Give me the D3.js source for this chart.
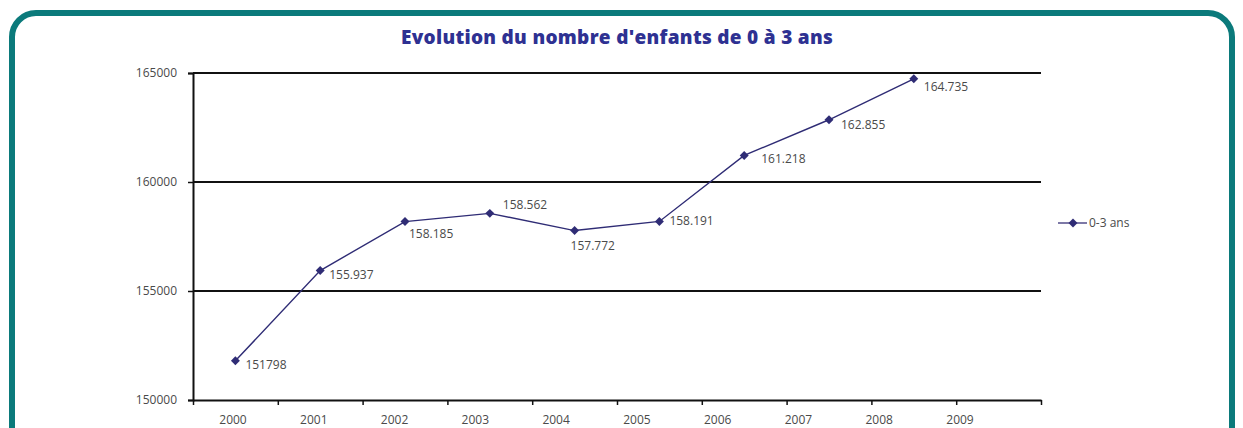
<!DOCTYPE html>
<html>
<head>
<meta charset="utf-8">
<script src="https://cdn.jsdelivr.net/npm/d3@7"></script>
<style>
  body { margin: 0; background: #fff; }
  svg { display: block; }
</style>
</head>
<body>
<div id="chartContainer"></div>
<script>
// Data
const years = ["2000", "2001", "2002", "2003", "2004", "2005", "2006", "2007", "2008", "2009"];
const values = [151798, 155937, 158185, 158562, 157772, 158191, 161218, 162855, 164735];
const valueLabels = ["151798", "155.937", "158.185", "158.562", "157.772", "158.191", "161.218", "162.855", "164.735"];
const yTicks = [150000, 155000, 160000, 165000];
const seriesName = "0-3 ans";
const title = "Evolution du nombre d'enfants de 0 à 3 ans";

// where each value label sits relative to its point (dx, dy)
const labelOffsets = [[10, 8], [9, 8], [4, 16], [13, -4], [-4, 19], [10, 4], [17, 8], [12, 9], [10, 12]];

const W = 1243, H = 428;
const lineColor = "#2f2c75";

const svg = d3.select("#chartContainer")
  .append("svg")
  .attr("width", W)
  .attr("height", H);

// teal rounded frame (bottom runs off the picture)
svg.append("rect")
  .attr("x", 12)
  .attr("y", 13)
  .attr("width", 1220)
  .attr("height", 460)
  .attr("rx", 24)
  .attr("fill", "none")
  .attr("stroke", "#0b7a7b")
  .attr("stroke-width", 6);

// title
svg.append("text")
  .attr("x", 617)
  .attr("y", 44)
  .attr("text-anchor", "middle")
  .attr("font-family", "'Open Sans', sans-serif")
  .attr("font-weight", 800)
  .attr("font-size", "19px")
  .attr("letter-spacing", "0.3px")
  .attr("fill", "#2e3192")
  .text(title);

// scales
const xBand = d3.scaleBand().domain(years).range([193, 1041]).padding(0);
const xTick = d3.scaleLinear().domain([0, years.length]).range([193, 1041]);
const xLabel = d3.scalePoint().domain(years).range([233, 960]);
const y = d3.scaleLinear().domain([150000, 165000]).range([400, 73]);

// horizontal gridlines
svg.append("g")
  .selectAll("line")
  .data(yTicks.slice(1))
  .enter()
  .append("line")
  .attr("x1", 193)
  .attr("x2", 1041)
  .attr("y1", d => y(d))
  .attr("y2", d => y(d))
  .attr("stroke", "#111")
  .attr("stroke-width", 2);

// y axis
const yAxis = svg.append("g")
  .attr("transform", "translate(193,0)")
  .call(d3.axisLeft(y).tickValues(yTicks).tickSize(5).tickPadding(11).tickFormat(d3.format("d")));
yAxis.select(".domain").attr("stroke", "#111").attr("stroke-width", 2);
yAxis.selectAll(".tick line").attr("stroke", "#111").attr("stroke-width", 1.5);
yAxis.selectAll("text")
  .attr("font-family", "'Open Sans', sans-serif")
  .attr("font-size", "12px")
  .attr("fill", "#4a4a4a");

// x axis (ticks on category boundaries)
const xAxis = svg.append("g")
  .attr("transform", "translate(0,400)")
  .call(d3.axisBottom(xTick).tickValues(d3.range(years.length + 1)).tickSize(5).tickSizeOuter(0).tickFormat(""));
xAxis.select(".domain").attr("stroke", "#111").attr("stroke-width", 2);
xAxis.selectAll(".tick line").attr("stroke", "#111").attr("stroke-width", 1.5);

// x labels
svg.append("g")
  .selectAll("text")
  .data(years)
  .enter()
  .append("text")
  .attr("x", d => xLabel(d))
  .attr("y", 424)
  .attr("text-anchor", "middle")
  .attr("font-family", "'Open Sans', sans-serif")
  .attr("font-size", "12px")
  .attr("fill", "#4a4a4a")
  .text(d => d);

// series line
const pts = values.map((v, i) => ({ year: years[i], value: v, label: valueLabels[i], off: labelOffsets[i] }));
const cx = d => xBand(d.year) + xBand.bandwidth() / 2;

svg.append("path")
  .datum(pts)
  .attr("fill", "none")
  .attr("stroke", lineColor)
  .attr("stroke-width", 1.4)
  .attr("d", d3.line().x(cx).y(d => y(d.value)));

// square marker turned 45 degrees = diamond
const diamond = d3.symbol().type(d3.symbolSquare).size(40);

svg.append("g")
  .selectAll("path")
  .data(pts)
  .enter()
  .append("path")
  .attr("transform", d => `translate(${cx(d)},${y(d.value)}) rotate(45)`)
  .attr("d", diamond)
  .attr("fill", lineColor);

// value labels
svg.append("g")
  .selectAll("text")
  .data(pts)
  .enter()
  .append("text")
  .attr("x", d => cx(d) + d.off[0])
  .attr("y", d => y(d.value) + d.off[1])
  .attr("font-family", "'Open Sans', sans-serif")
  .attr("font-size", "12px")
  .attr("fill", "#4a4a4a")
  .text(d => d.label);

// legend
const legend = svg.append("g").attr("transform", "translate(1058,223)");
legend.append("line")
  .attr("x1", 0).attr("x2", 29)
  .attr("stroke", "#5d5892")
  .attr("stroke-width", 1.6);
legend.append("path")
  .attr("transform", "translate(15,0) rotate(45)")
  .attr("d", diamond)
  .attr("fill", lineColor);
legend.append("text")
  .attr("x", 31)
  .attr("y", 4)
  .attr("font-family", "'Open Sans', sans-serif")
  .attr("font-size", "12px")
  .attr("fill", "#4a4a4a")
  .text(seriesName);
</script>
</body>
</html>
